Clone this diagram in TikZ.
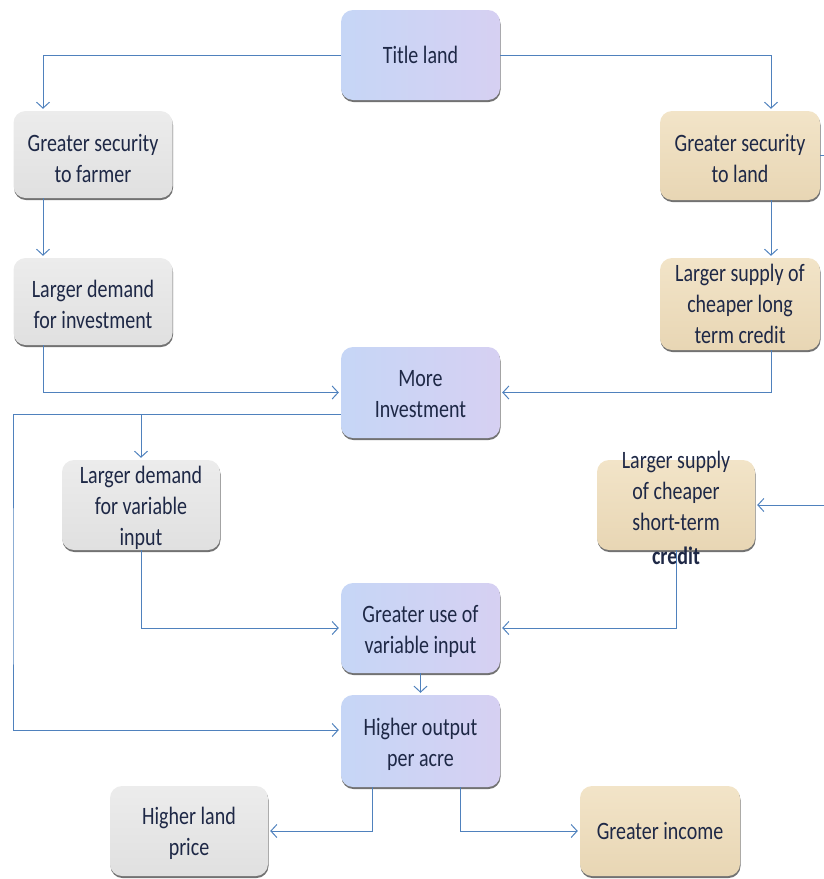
\documentclass[tikz,border=0pt]{standalone}
\usepackage{fontspec}
\setmainfont[FakeStretch=0.8]{Carlito}
\usetikzlibrary{arrows.meta,shadows}

\definecolor{linkblue}{RGB}{79,129,189}
\definecolor{ink}{RGB}{30,40,70}
\definecolor{blueA}{RGB}{198,214,246}
\definecolor{blueB}{RGB}{214,208,242}
\definecolor{grayA}{RGB}{236,236,236}
\definecolor{grayB}{RGB}{224,224,224}
\definecolor{tanA}{RGB}{242,228,200}
\definecolor{tanB}{RGB}{232,214,180}

\tikzset{
  box/.style={rounded corners=12pt, minimum width=159pt, minimum height=90pt,
    inner sep=0pt,
    drop shadow={shadow xshift=0.5pt, shadow yshift=-2pt, fill=black!65, opacity=0.85}},
  bluebox/.style={box, left color=blueA, right color=blueB},
  graybox/.style={box, top color=grayA, bottom color=grayB},
  tanbox/.style={box, top color=tanA, bottom color=tanB},
  lbl/.style={align=center, text=ink, font=\fontsize{25}{31}\selectfont, inner sep=0pt},
  conn/.style={draw=linkblue, line width=1pt, shorten >=2pt,
    -{Straight Barb[length=6pt,width=13pt]}},
  plainline/.style={draw=linkblue, line width=1pt}
}

\begin{document}
\begin{tikzpicture}[x=1pt,y=-1pt]
\useasboundingbox (0,0) rectangle (824,879);

% boxes
\node[bluebox] (title) at (420.5,55) {};
\node[graybox, minimum height=87pt] (gsf) at (93,154.5) {};
\node[tanbox, minimum width=160pt, minimum height=89pt] (gsl) at (740,155.5) {};
\node[graybox, minimum height=87pt] (ldi) at (93,301.5) {};
\node[tanbox, minimum width=160pt, minimum height=92pt] (lsc) at (740,304) {};
\node[bluebox, minimum height=91pt] (mi) at (420.5,392.5) {};
\node[graybox, minimum width=158pt] (ldv) at (141,505) {};
\node[tanbox, minimum width=158pt] (ssc) at (676,505) {};
\node[bluebox] (guv) at (420.5,628) {};
\node[bluebox, minimum height=92pt] (hop) at (420.5,741) {};
\node[graybox, minimum width=158pt] (hlp) at (189,831) {};
\node[tanbox, minimum width=160pt] (gi) at (660,831) {};

% box texts
\node[lbl] (title-t) at (title.center) {Title land};
\node[lbl] (gsf-t) at ([yshift=-3.5pt]gsf.center) {Greater security\\to farmer};
\node[lbl] (gsl-t) at ([yshift=-2.5pt]gsl.center) {Greater security\\to land};
\node[lbl] (ldi-t) at ([yshift=-2.5pt]ldi.center) {Larger demand\\for investment};
\node[lbl] (lsc-t) at (lsc.center) {Larger supply of\\cheaper long\\term credit};
\node[lbl] (mi-t) at ([yshift=-2pt]mi.center) {More\\Investment};
\node[lbl] (ldv-t) at ([yshift=-3pt]ldv.center) {Larger demand\\for variable\\input};
\node[lbl] (ssc-t) at ([yshift=14pt]ssc.center) {Larger supply\\of cheaper\\short-term};
\node[lbl, font=\fontsize{25}{31}\selectfont\bfseries] (ssc-t2) at ([yshift=-51pt]ssc.center) {credit};
\node[lbl] (guv-t) at ([yshift=-3.5pt]guv.center) {Greater use of\\variable input};
\node[lbl] (hop-t) at ([yshift=-3pt]hop.center) {Higher output\\per acre};
\node[lbl] (hlp-t) at ([yshift=-2.5pt]hlp.center) {Higher land\\price};
\node[lbl] (gi-t) at (gi.center) {Greater income};

% free ends and bends
\coordinate (extR) at (824,505);
\coordinate (loopL) at (13,600);
\coordinate (mib) at ([yshift=-21.5pt]mi.west);

% connectors
\draw[conn] (title.west) -| ([xshift=-50pt]gsf.north);
\draw[conn] (title.east) -| ([xshift=31pt]gsl.north);
\draw[conn] ([xshift=-50pt]gsf.south) -- ([xshift=-50pt]ldi.north);
\draw[conn] ([xshift=31pt]gsl.south) -- ([xshift=31pt]lsc.north);
\draw[plainline] (gsl.east) -- ++(6,0);
\draw[conn] ([xshift=-50pt]ldi.south) |- (mi.west);
\draw[conn] ([xshift=31pt]lsc.south) |- (mi.east);
\draw[conn] (mib) -| (loopL) |- ([yshift=11pt]hop.west);
\draw[conn] (ldv.north |- mib) -- (ldv.north);
\draw[conn] (extR) -- (ssc.east);
\draw[conn] (ssc.south) |- (guv.east);
\draw[conn] (ldv.south) |- (guv.west);
\draw[conn] (guv.south) -- (hop.north);
\draw[conn] ([xshift=-48.5pt]hop.south) |- (hlp.east);
\draw[conn] ([xshift=39.5pt]hop.south) |- (gi.west);
\end{tikzpicture}
\end{document}
